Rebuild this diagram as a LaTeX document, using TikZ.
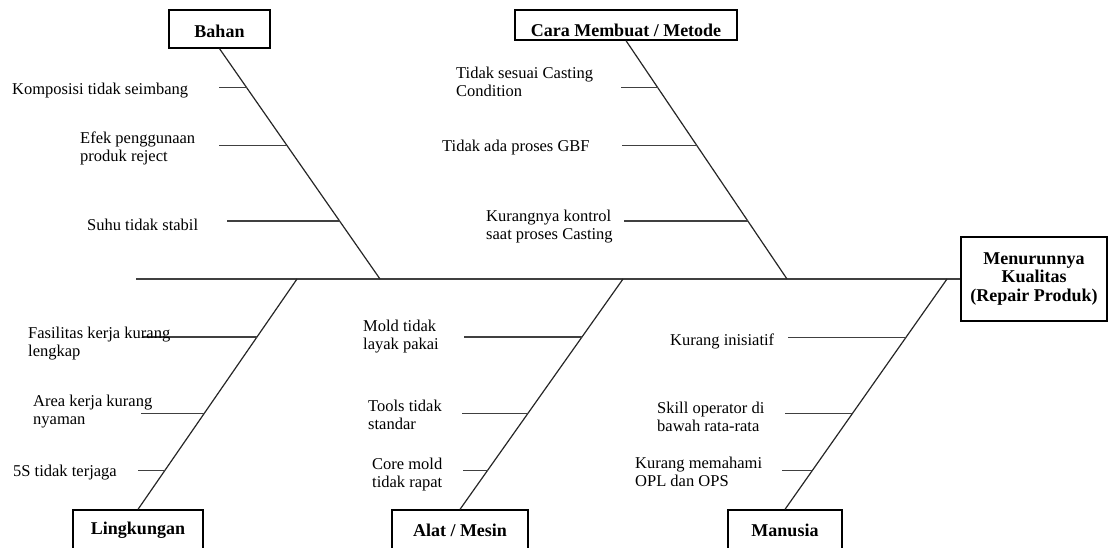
\documentclass[tikz,border=0pt]{standalone}
\usepackage{fontspec}
\setmainfont{Liberation Serif}
\usetikzlibrary{calc}

\tikzset{
  kategori/.style={draw=black, line width=1.3pt, inner sep=0pt, align=center,
    font=\fontsize{18}{18.5}\selectfont\bfseries},
  sebab/.style={inner sep=0pt, anchor=west, align=left,
    font=\fontsize{16.5}{18}\selectfont},
  punggung/.style={draw=black!75, line width=2pt},
  tulang/.style={draw=black!85, line width=1.2pt},
  duri/.style={draw=black!75, line width=1.5pt}
}

\begin{document}
\begin{tikzpicture}[x=1pt,y=-1pt] % satuan = piksel gambar
\useasboundingbox (0,0) rectangle (1109,547);
\clip (0,0) rectangle (1109,547);

% akibat dan tulang punggung
\node[kategori, minimum width=146pt, minimum height=84pt] (akibat) at (1034,279)
  {Menurunnya\\Kualitas\\(Repair Produk)};
\coordinate (ekor) at (136,279);
\draw[punggung] (ekor) -- (akibat.west);

% kategori atas
\node[kategori, minimum width=101pt, minimum height=38pt, text height=16pt, text depth=0pt]
  (bahan) at (219.5,29) {Bahan};
\node[kategori, minimum width=222pt, minimum height=30pt, text height=22pt, text depth=0pt]
  (cara) at (626,25) {Cara Membuat / Metode};
% kategori bawah
\node[kategori, minimum width=130pt, minimum height=40pt] (lingkungan) at (138,530) {Lingkungan};
\node[kategori, minimum width=136pt, minimum height=40pt] (alat) at (460,530) {Alat / Mesin};
\node[kategori, minimum width=114pt, minimum height=40pt] (manusia) at (785,530) {Manusia};

% titik pada punggung
\coordinate (s1) at (380,279);
\coordinate (s2) at (787,279);
\coordinate (s3) at (297,279);
\coordinate (s4) at (623,279);
\coordinate (s5) at (947,279);

% tulang
\draw[tulang] (bahan.south) -- (s1);
\draw[tulang] (cara.south) -- (s2);
\draw[tulang] (lingkungan.north) -- (s3);
\draw[tulang] (alat.north) -- (s4);
\draw[tulang] (manusia.north) -- (s5);

% duri
\foreach \f/\l [count=\i] in {.169/28,.420/68,.749/113}
  \draw[duri] ($(bahan.south)!\f!(s1)$) coordinate (b\i) -- ++(-\l,0);
\foreach \f/\l [count=\i] in {.197/37,.439/75,.757/124}
  \draw[duri] ($(cara.south)!\f!(s2)$) coordinate (c\i) -- ++(-\l,0);
\foreach \f/\l [count=\i] in {.749/115,.416/63,.169/27}
  \draw[duri] ($(lingkungan.north)!\f!(s3)$) coordinate (l\i) -- ++(-\l,0);
\foreach \f/\l [count=\i] in {.749/118,.416/66,.169/25}
  \draw[duri] ($(alat.north)!\f!(s4)$) coordinate (a\i) -- ++(-\l,0);
\foreach \f/\l [count=\i] in {.745/118,.416/67,.169/30}
  \draw[duri] ($(manusia.north)!\f!(s5)$) coordinate (m\i) -- ++(-\l,0);

% sebab - Bahan
\node[sebab] (tb1) at (12,91) {Komposisi tidak seimbang};
\node[sebab] (tb2) at (80,148) {Efek penggunaan\\produk reject};
\node[sebab] (tb3) at (87,225) {Suhu tidak stabil};
% sebab - Cara Membuat / Metode
\node[sebab] (tc1) at (456,82) {Tidak sesuai Casting\\Condition};
\node[sebab] (tc2) at (442,148) {Tidak ada proses GBF};
\node[sebab] (tc3) at (486,227) {Kurangnya kontrol\\saat proses Casting};
% sebab - Lingkungan
\node[sebab] (tl1) at (28,344) {Fasilitas kerja kurang\\lengkap};
\node[sebab] (tl2) at (33,412) {Area kerja kurang\\nyaman};
\node[sebab] (tl3) at (13,473) {5S tidak terjaga};
% sebab - Alat / Mesin
\node[sebab] (ta1) at (363,337) {Mold tidak\\layak pakai};
\node[sebab] (ta2) at (368,415) {Tools tidak\\standar};
\node[sebab] (ta3) at (372,475) {Core mold\\tidak rapat};
% sebab - Manusia
\node[sebab] (tm1) at (670,341) {Kurang inisiatif};
\node[sebab] (tm2) at (657,417) {Skill operator di\\bawah rata-rata};
\node[sebab] (tm3) at (635,472) {Kurang memahami\\OPL dan OPS};
\end{tikzpicture}
\end{document}
